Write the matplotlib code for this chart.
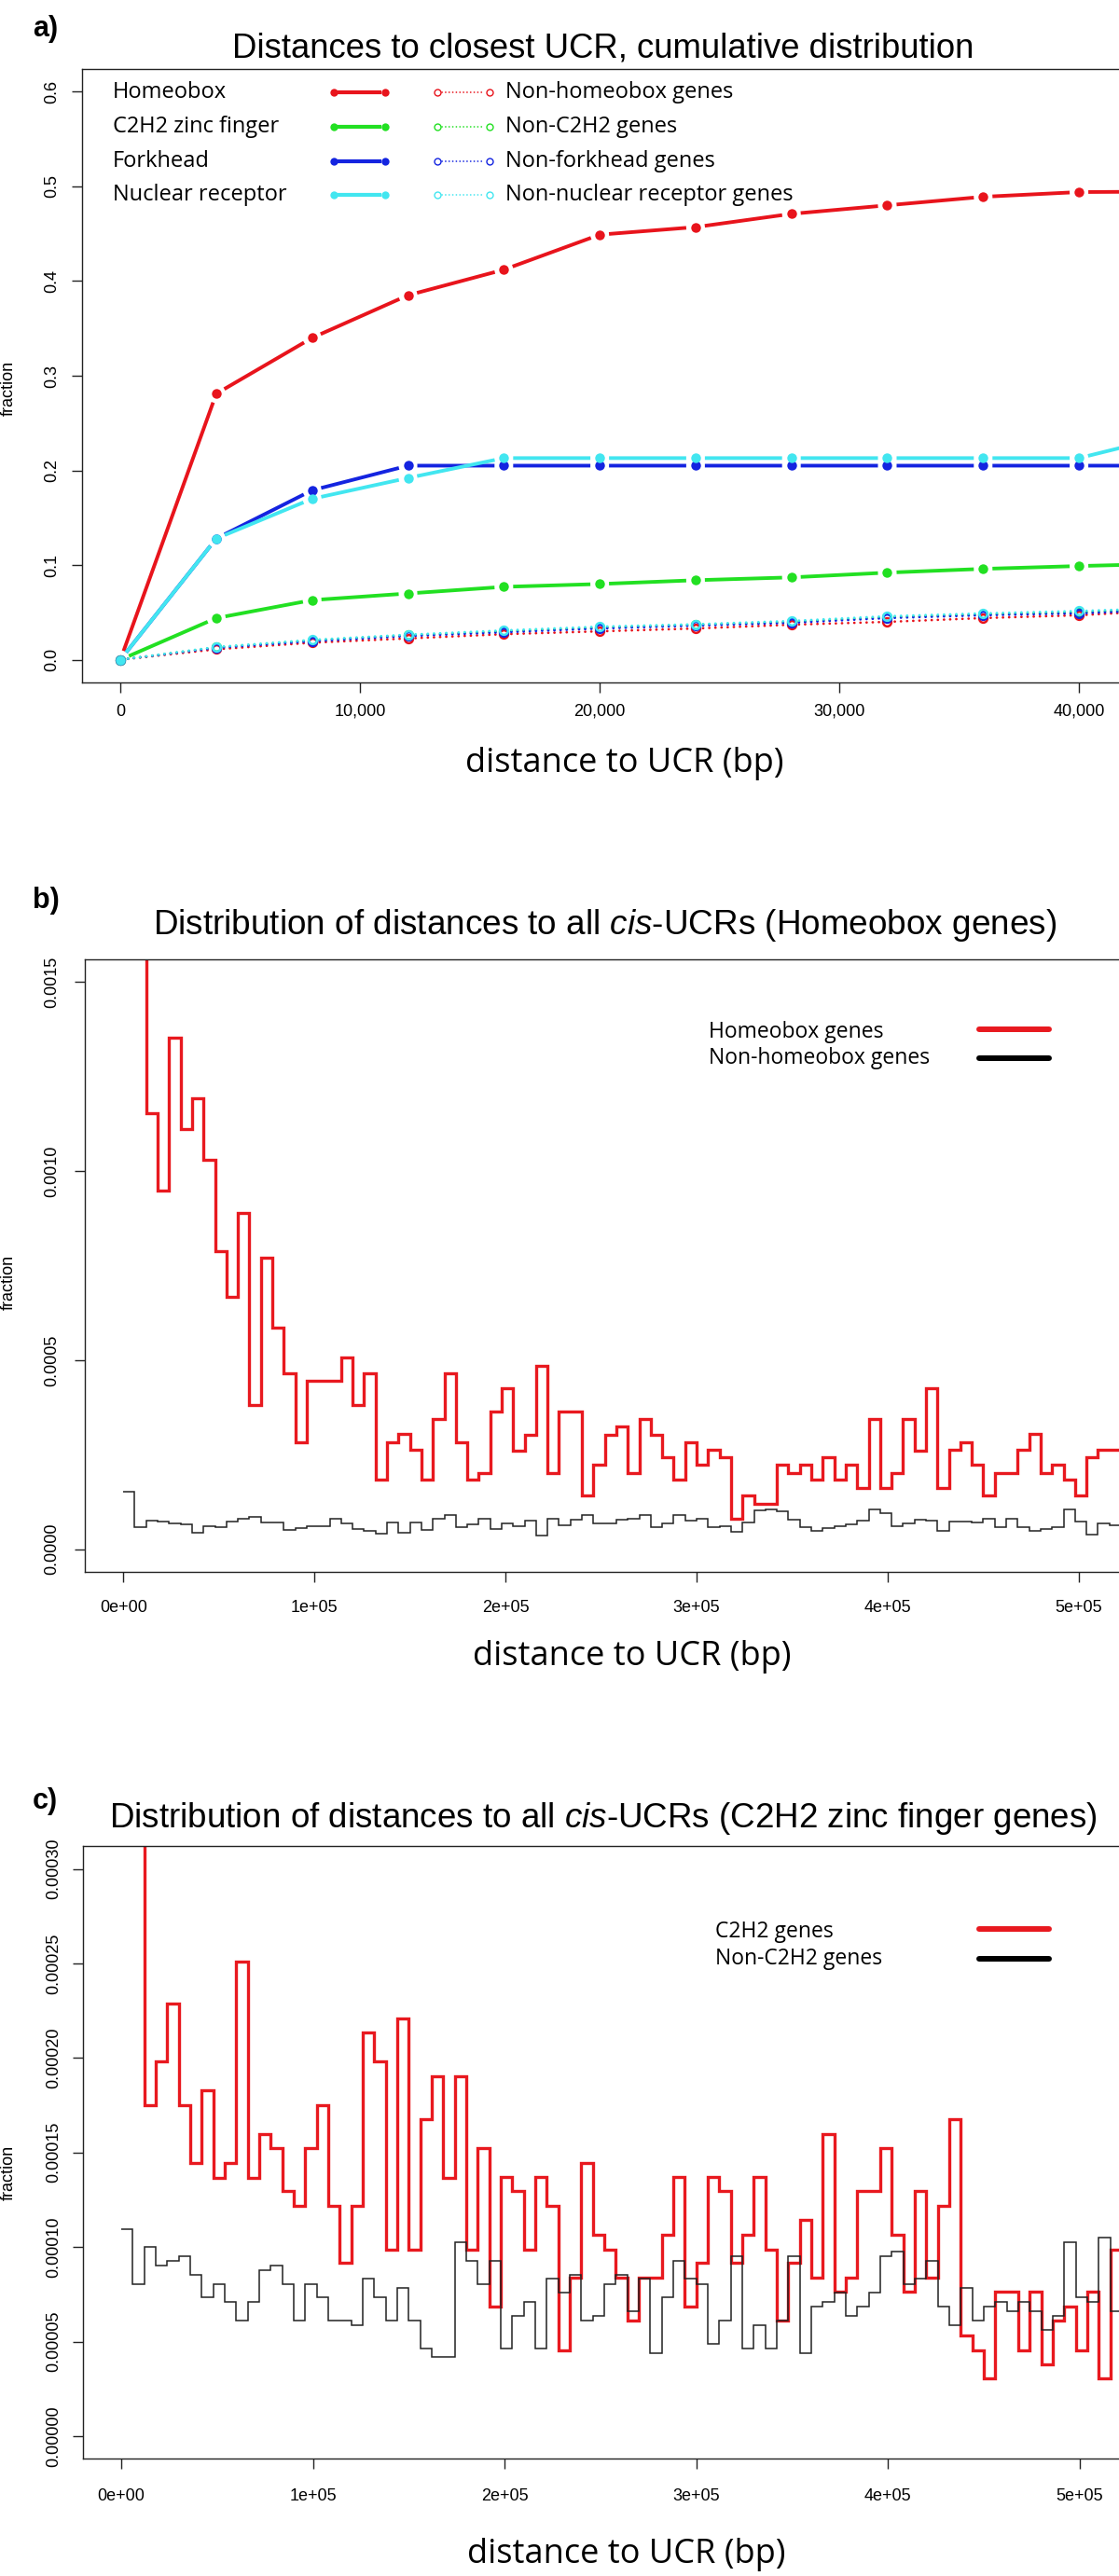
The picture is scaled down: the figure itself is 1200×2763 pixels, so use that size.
import numpy as np
import matplotlib
matplotlib.use('Agg')
import matplotlib.pyplot as plt
from matplotlib.ticker import FixedLocator, FixedFormatter

plt.rcParams['font.family'] = ['Liberation Sans', 'DejaVu Sans']
plt.rcParams['mathtext.fontset'] = 'custom'
plt.rcParams['mathtext.rm'] = 'Liberation Sans'
plt.rcParams['mathtext.it'] = 'Liberation Sans:italic'

# ---- panel a: cumulative distribution (distance in bp) ----
dist_a = [0, 4000, 8000, 12000, 16000, 20000, 24000, 28000, 32000, 36000, 40000, 44000]
homeobox = [0.0, 0.281, 0.340, 0.385, 0.412, 0.449, 0.457, 0.471, 0.480, 0.489, 0.494, 0.4945]
c2h2 = [0.0, 0.044, 0.063, 0.070, 0.077, 0.080, 0.084, 0.087, 0.092, 0.096, 0.099, 0.1015]
forkhead = [0.0, 0.128, 0.179, 0.205, 0.205, 0.205, 0.205, 0.205, 0.205, 0.205, 0.205, 0.205]
nuclear = [0.0, 0.128, 0.170, 0.192, 0.213, 0.213, 0.213, 0.213, 0.213, 0.213, 0.213, 0.238]
non_homeobox = [0.0, 0.011, 0.018, 0.0225, 0.027, 0.030, 0.033, 0.037, 0.040, 0.044, 0.047, 0.0525]
non_c2h2 = [0.0, 0.013, 0.0205, 0.026, 0.030, 0.034, 0.037, 0.040, 0.045, 0.048, 0.050, 0.054]
non_forkhead = [0.0, 0.0125, 0.0195, 0.025, 0.029, 0.033, 0.036, 0.039, 0.044, 0.047, 0.049, 0.053]
non_nuclear = [0.0, 0.0135, 0.021, 0.0265, 0.031, 0.035, 0.0375, 0.041, 0.046, 0.049, 0.0515, 0.0548]

# ---- panels b, c: histograms, bins of 6000 bp ----
bin_edges = np.arange(0, 6000 * 88, 6000)
# fraction x 1e-4 (first two red bins are above the plotted range)
hox_b = [42.0, 19.0, 11.52, 9.49, 13.54, 11.11, 11.93, 10.30, 7.89, 6.68,
         8.90, 3.82, 7.70, 5.87, 4.65, 2.82, 4.45, 4.45, 4.45, 5.07,
         3.82, 4.65, 1.83, 2.83, 3.04, 2.62, 1.83, 3.45, 4.65, 2.83,
         1.83, 2.02, 3.65, 4.25, 2.61, 3.03, 4.86, 2.02, 3.65, 3.65,
         1.41, 2.23, 3.03, 3.24, 2.02, 3.45, 3.03, 2.43, 1.83, 2.83,
         2.23, 2.62, 2.43, 0.81, 1.41, 1.21, 1.21, 2.23, 2.02, 2.23,
         1.83, 2.43, 1.83, 2.23, 1.62, 3.45, 1.62, 2.02, 3.45, 2.61,
         4.25, 1.62, 2.62, 2.83, 2.23, 1.41, 2.02, 2.02, 2.62, 3.04,
         2.02, 2.23, 1.83, 1.41, 2.43, 2.62, 2.62]
nonhox_b = [1.51, 0.58, 0.76, 0.73, 0.69, 0.65, 0.44, 0.61, 0.58, 0.72,
            0.81, 0.86, 0.71, 0.71, 0.52, 0.55, 0.61, 0.61, 0.81, 0.69,
            0.53, 0.49, 0.42, 0.71, 0.44, 0.71, 0.51, 0.80, 0.90, 0.59,
            0.65, 0.81, 0.53, 0.69, 0.61, 0.75, 0.36, 0.80, 0.63, 0.79,
            0.90, 0.69, 0.69, 0.77, 0.80, 0.90, 0.58, 0.69, 0.91, 0.75,
            0.81, 0.59, 0.61, 0.47, 0.71, 1.02, 1.06, 1.00, 0.77, 0.58,
            0.49, 0.55, 0.62, 0.66, 0.75, 1.06, 0.95, 0.62, 0.69, 0.79,
            0.75, 0.49, 0.72, 0.73, 0.71, 0.81, 0.59, 0.81, 0.59, 0.49,
            0.54, 0.58, 1.04, 0.73, 0.39, 0.67, 0.63]
# fraction x 1e-5
znf_c = [60.0, 38.0, 17.5, 19.8, 22.86, 17.5, 14.45, 18.28, 13.68, 14.47,
         25.1, 13.68, 16.0, 15.24, 12.97, 12.17, 15.24, 17.5, 12.17, 9.16,
         12.17, 21.33, 19.8, 9.87, 22.09, 9.87, 16.75, 19.03, 13.68, 19.03,
         9.87, 15.24, 6.83, 13.71, 12.97, 9.87, 13.71, 12.17, 4.53, 8.39,
         14.47, 10.64, 9.87, 8.39, 6.09, 8.39, 8.39, 10.64, 13.71, 6.83,
         9.16, 13.71, 12.97, 9.16, 10.64, 13.71, 9.87, 6.09, 9.16, 11.43,
         8.39, 15.98, 7.62, 8.39, 12.97, 12.97, 15.24, 10.64, 7.62, 12.97,
         8.39, 12.17, 16.75, 5.30, 4.56, 3.05, 7.62, 7.62, 4.56, 7.62,
         3.79, 6.09, 6.83, 4.56, 7.62, 3.05, 9.87]
nonznf_c = [10.97, 8.06, 10.02, 9.03, 9.29, 9.52, 8.55, 7.34, 8.06, 7.09,
            6.11, 7.09, 8.80, 9.03, 8.06, 6.11, 8.06, 7.34, 6.11, 6.11,
            5.86, 8.31, 7.34, 6.11, 7.83, 6.11, 4.65, 4.17, 4.17, 10.26,
            9.29, 8.06, 9.29, 4.65, 6.35, 7.09, 4.65, 8.31, 7.57, 8.55,
            6.11, 6.35, 8.06, 8.55, 6.60, 8.31, 4.40, 7.34, 9.29, 8.31,
            8.06, 4.89, 6.11, 9.52, 4.65, 5.86, 4.65, 6.11, 9.52, 4.40,
            6.83, 7.09, 7.57, 6.35, 6.83, 7.57, 9.52, 9.77, 8.06, 8.31,
            9.29, 6.83, 5.86, 7.83, 6.11, 6.83, 7.09, 6.60, 7.09, 6.60,
            5.62, 6.35, 10.26, 7.34, 7.09, 10.51, 6.60]

xticks_a = [0, 10000, 20000, 30000, 40000]
xlabels_a = ['0', '10,000', '20,000', '30,000', '40,000']
yticks_a = [0.0, 0.1, 0.2, 0.3, 0.4, 0.5, 0.6]
ylabels_a = ['0.0', '0.1', '0.2', '0.3', '0.4', '0.5', '0.6']
xticks_bc = [0, 100000, 200000, 300000, 400000, 500000]
xlabels_bc = ['0e+00', '1e+05', '2e+05', '3e+05', '4e+05', '5e+05']
yticks_b = [0.0, 0.0005, 0.0010, 0.0015]
ylabels_b = ['0.0000', '0.0005', '0.0010', '0.0015']
yticks_c = [0.0, 0.00005, 0.00010, 0.00015, 0.00020, 0.00025, 0.00030]
ylabels_c = ['0.00000', '0.00005', '0.00010', '0.00015', '0.00020', '0.00025', '0.00030']

RED = '#E8141C'
GREEN = '#22E022'
BLUE = '#1424E0'
CYAN = '#42E6F0'
HRED = '#E8191F'

W, H = 1200, 2763
fig = plt.figure(figsize=(W / 100, H / 100), dpi=100)


def fx(px):
    return px / W


def fy(py):
    return 1 - py / H


def style_axes(ax, xt, xl, yt, yl, xpad, ypad):
    for s in ['left', 'top', 'bottom']:
        ax.spines[s].set_linewidth(1.0)
        ax.spines[s].set_color('#222222')
    ax.spines['right'].set_visible(False)
    ax.xaxis.set_major_locator(FixedLocator(xt))
    ax.xaxis.set_major_formatter(FixedFormatter(xl))
    ax.yaxis.set_major_locator(FixedLocator(yt))
    ax.yaxis.set_major_formatter(FixedFormatter(yl))
    ax.tick_params(axis='both', length=8, width=1.0, color='#222222', labelsize=13)
    ax.tick_params(axis='x', pad=xpad)
    ax.tick_params(axis='y', pad=ypad, labelrotation=90)
    for lab in ax.get_yticklabels():
        lab.set_va('center')


def gap_line(ax, x, y, gap, **kw):
    # R type="b": segments stop short of the points
    pts = ax.transData.transform(np.column_stack([x, y]))
    inv = ax.transData.inverted()
    xs, ys = [], []
    for p0, p1 in zip(pts[:-1], pts[1:]):
        d = p1 - p0
        L = np.hypot(d[0], d[1])
        if L <= 2 * gap:
            continue
        a = p0 + d / L * gap
        b = p1 - d / L * gap
        (xa, ya), (xb, yb) = inv.transform([a, b])
        xs += [xa, xb, np.nan]
        ys += [ya, yb, np.nan]
    ax.plot(xs, ys, **kw)


# ================= a =================
axa = fig.add_axes([fx(88), fy(732), (W - 88) / W, (732 - 74) / H])
axa.set_xlim(-1600, 41670)
axa.set_ylim(-0.024, 0.624)
style_axes(axa, xticks_a, xlabels_a, yticks_a, ylabels_a, 8.3, 9)

dotted = (0, (0.1, 2.4))
for vals, col in [(non_homeobox, RED), (non_c2h2, GREEN), (non_forkhead, BLUE), (non_nuclear, CYAN)]:
    gap_line(axa, dist_a, vals, 8, color=col, lw=1.9, linestyle=dotted, dash_capstyle='round')
    axa.plot(dist_a, vals, 'o', ms=6.3, mfc='none', mec=col, mew=1.8)
for vals, col in [(homeobox, RED), (c2h2, GREEN), (forkhead, BLUE), (nuclear, CYAN)]:
    gap_line(axa, dist_a, vals, 10, color=col, lw=2.8, solid_capstyle='butt')
    axa.plot(dist_a, vals, 'o', ms=7.5, color=col, mec='none')

# legend rows
rows_y = [98.7, 136.3, 173.3, 209.3]
fam_names = ['Homeobox', 'C2H2 zinc finger', 'Forkhead', 'Nuclear receptor']
non_names = ['Non-homeobox genes', 'Non-C2H2 genes', 'Non-forkhead genes', 'Non-nuclear receptor genes']
for ry, col, n1, n2 in zip(rows_y, [RED, GREEN, BLUE, CYAN], fam_names, non_names):
    fig.text(fx(121), fy(ry), n1, fontsize=17, family='Open Sans', va='center', ha='left')
    fig.text(fx(542), fy(ry), n2, fontsize=17, family='Open Sans', va='center', ha='left')
    fig.add_artist(plt.Line2D([fx(364), fx(407)], [fy(ry), fy(ry)], color=col, lw=3.0))
    fig.add_artist(plt.Line2D([fx(358), fx(413)], [fy(ry), fy(ry)], ls='none',
                              marker='o', ms=6, color=col, mec='none'))
    fig.add_artist(plt.Line2D([fx(474), fx(520)], [fy(ry), fy(ry)], color=col, lw=1.2,
                              linestyle=(0, (0.1, 2.2)), dash_capstyle='round'))
    fig.add_artist(plt.Line2D([fx(469), fx(525)], [fy(ry), fy(ry)], ls='none',
                              marker='o', ms=5, mfc='none', mec=col, mew=1.0))

fig.text(fx(35), fy(31), 'a)', fontsize=22, fontweight='bold', va='center', ha='left')
fig.text(fx(647), fy(61), 'Distances to closest UCR, cumulative distribution',
         fontsize=26.3, ha='center', va='baseline')
fig.text(fx(670), fy(819), 'distance to UCR (bp)', fontsize=26, family='Open Sans',
         ha='center', va='center')
fig.text(fx(9), fy(416), 'fraction', fontsize=13, rotation=90, ha='center', va='center')

# ================= b =================
axb = fig.add_axes([fx(90.7), fy(1686), (W - 90.7) / W, (1686 - 1029) / H])
axb.set_xlim(-20250, 521000)
axb.set_ylim(-0.00006, 0.00156)
style_axes(axb, xticks_bc, xlabels_bc, yticks_b, ylabels_b, 13.4, 10.7)
axb.stairs(np.array(hox_b) * 1e-4, bin_edges, baseline=None, color=HRED, lw=2.4)
axb.stairs(np.array(nonhox_b) * 1e-4, bin_edges, baseline=None, color='#222222', lw=1.1)

fig.text(fx(760), fy(1107), 'Homeobox genes', fontsize=16.5, family='Open Sans', va='center')
fig.text(fx(760), fy(1135), 'Non-homeobox genes', fontsize=16.5, family='Open Sans', va='center')
fig.add_artist(plt.Line2D([fx(1050), fx(1125)], [fy(1104), fy(1104)], color=HRED, lw=4.3,
                          solid_capstyle='round'))
fig.add_artist(plt.Line2D([fx(1050), fx(1125)], [fy(1135), fy(1135)], color='black', lw=4.3,
                          solid_capstyle='round'))

fig.text(fx(35), fy(966), 'b)', fontsize=22, fontweight='bold', va='center', ha='left')
fig.text(fx(649), fy(1001.7), r'Distribution of distances to all $\mathit{cis}$-UCRs (Homeobox genes)',
         fontsize=26.6, ha='center', va='baseline')
fig.text(fx(678), fy(1777), 'distance to UCR (bp)', fontsize=26, family='Open Sans',
         ha='center', va='center')
fig.text(fx(9), fy(1375), 'fraction', fontsize=13, rotation=90, ha='center', va='center')

# ================= c =================
axc = fig.add_axes([fx(89), fy(2637.3), (W - 89) / W, (2637.3 - 1980.3) / H])
axc.set_xlim(-19990, 520600)
axc.set_ylim(-0.000012, 0.000312)
style_axes(axc, xticks_bc, xlabels_bc, yticks_c, ylabels_c, 15, 8.4)
axc.stairs(np.array(znf_c) * 1e-5, bin_edges, baseline=None, color=HRED, lw=2.4)
axc.stairs(np.array(nonznf_c) * 1e-5, bin_edges, baseline=None, color='#222222', lw=1.1)

fig.text(fx(767), fy(2072), 'C2H2 genes', fontsize=16.5, family='Open Sans', va='center')
fig.text(fx(767), fy(2101), 'Non-C2H2 genes', fontsize=16.5, family='Open Sans', va='center')
fig.add_artist(plt.Line2D([fx(1050), fx(1125)], [fy(2069), fy(2069)], color=HRED, lw=4.3,
                          solid_capstyle='round'))
fig.add_artist(plt.Line2D([fx(1050), fx(1125)], [fy(2101), fy(2101)], color='black', lw=4.3,
                          solid_capstyle='round'))

fig.text(fx(35), fy(1932), 'c)', fontsize=22, fontweight='bold', va='center', ha='left')
fig.text(fx(647), fy(1960), r'Distribution of distances to all $\mathit{cis}$-UCRs (C2H2 zinc finger genes)',
         fontsize=26.5, ha='center', va='baseline')
fig.text(fx(672), fy(2740), 'distance to UCR (bp)', fontsize=26, family='Open Sans',
         ha='center', va='center')
fig.text(fx(9), fy(2330), 'fraction', fontsize=13, rotation=90, ha='center', va='center')

fig.savefig('out.png', dpi=100)
